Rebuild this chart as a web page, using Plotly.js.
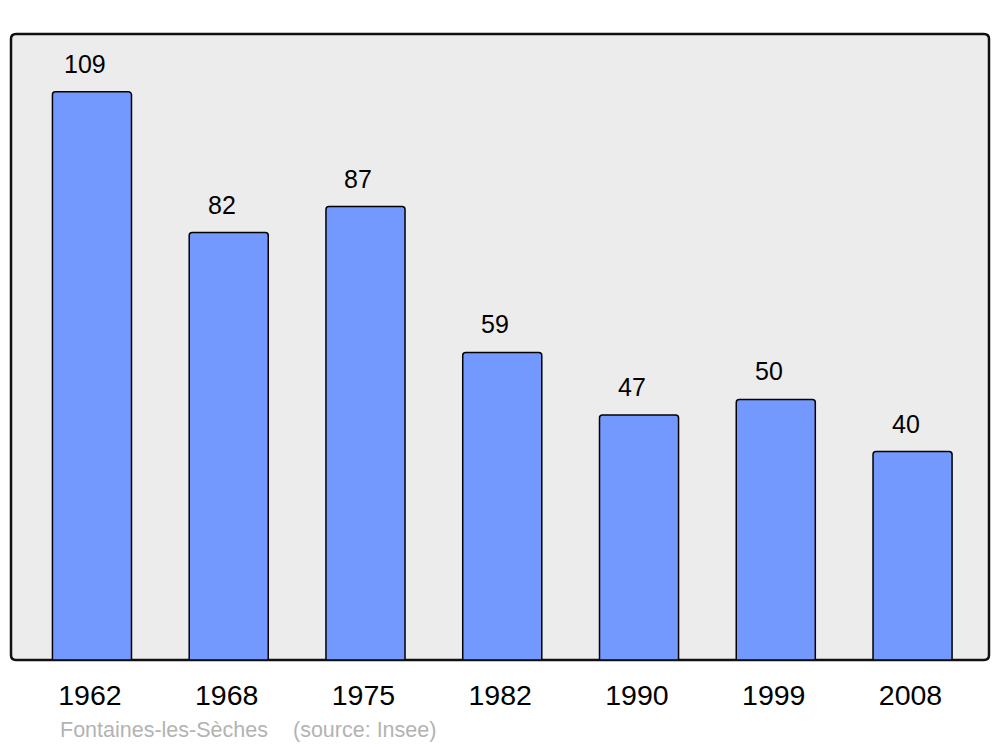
<!DOCTYPE html>
<html>
<head>
<meta charset="utf-8">
<script src="https://cdn.plot.ly/plotly-3.0.1.min.js"></script>
<style>html,body{margin:0;padding:0;background:#fff;}#chart{width:1000px;height:747px;}</style>
</head>
<body>
<div id="chart"></div>
<script>
const years = ["1962", "1968", "1975", "1982", "1990", "1999", "2008"];
const population = [109, 82, 87, 59, 47, 50, 40];
const placeName = "Fontaines-les-Sèches";
const sourceNote = "(source: Insee)";

const idx = years.map((_, i) => i);

const W = 1000, H = 747;
const m = {l: 11, r: 11, t: 34, b: 87};
const pw = W - m.l - m.r, ph = H - m.t - m.b;
const rx = 5 / pw, ry = 5 / ph;
const bgPath = `M ${rx},0 L ${1-rx},0 Q 1,0 1,${ry} L 1,${1-ry} Q 1,1 ${1-rx},1 L ${rx},1 Q 0,1 0,${1-ry} L 0,${ry} Q 0,0 ${rx},0 Z`;
const FONT = 'Liberation Sans, Arial, sans-serif';

const trace = {
  type: 'bar',
  x: idx,
  y: population,
  width: 0.578,
  marker: {color: '#7399ff', line: {color: '#000', width: 1.5}, cornerradius: 3},
  hoverinfo: 'none'
};

const annotations = population.map((v, i) => ({
  x: i, y: v, xref: 'x', yref: 'y', text: String(v), showarrow: false,
  yanchor: 'middle', yshift: 28, xshift: -7, font: {family: FONT, size: 25, color: '#000'}
}));
annotations.push({
  x: (58 - m.l) / pw, y: (660 - 730) / ph, xref: 'paper', yref: 'paper', xanchor: 'left', yanchor: 'middle',
  text: placeName, showarrow: false, font: {family: FONT, size: 21.5, color: '#b3b3b3'}
});
annotations.push({
  x: (291 - m.l) / pw, y: (660 - 730) / ph, xref: 'paper', yref: 'paper', xanchor: 'left', yanchor: 'middle',
  text: sourceNote, showarrow: false, font: {family: FONT, size: 21.5, color: '#b3b3b3'}
});

const layout = {
  width: W, height: H,
  margin: m,
  paper_bgcolor: '#fff',
  plot_bgcolor: 'rgba(0,0,0,0)',
  showlegend: false,
  xaxis: {
    type: 'linear', range: [-0.592, 6.559],
    tickvals: idx.map(i => i - 0.015), ticktext: years,
    ticks: 'outside', ticklen: 10, tickcolor: 'rgba(0,0,0,0)',
    showgrid: false, zeroline: false, showline: false,
    tickfont: {family: FONT, size: 28.5, color: '#000'},
    fixedrange: true
  },
  yaxis: {
    range: [0, 120.1], showgrid: false, zeroline: false, showline: false,
    showticklabels: false, ticks: '', fixedrange: true
  },
  shapes: [{
    type: 'path', xref: 'paper', yref: 'paper', path: bgPath,
    fillcolor: '#ececec', line: {color: '#111', width: 2.5}, layer: 'below'
  }],
  annotations: annotations
};

Plotly.newPlot('chart', [trace], layout, {displayModeBar: false, staticPlot: true});
</script>
</body>
</html>
